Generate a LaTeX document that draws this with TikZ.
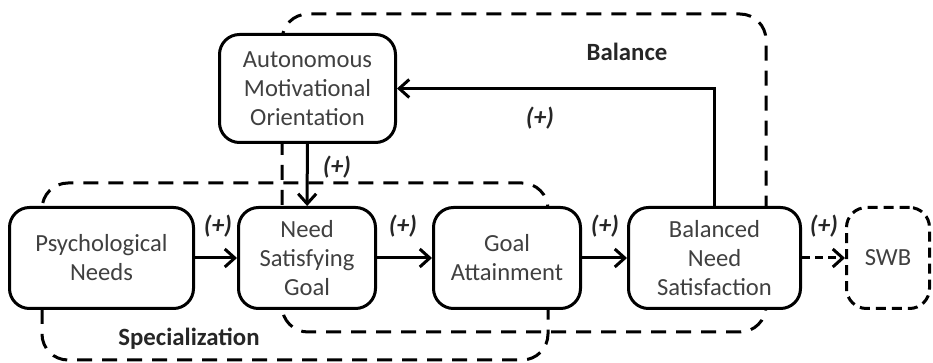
\documentclass[tikz,border=0pt]{standalone}
\usepackage{fontspec}
\setmainfont{Carlito}
\usetikzlibrary{arrows.meta}

\tikzset{
  box/.style={draw, line width=1.5pt, rounded corners=10pt, fill=white,
    align=center, text=black!75, inner sep=0pt, minimum height=50.5pt},
  region/.style={line width=1.5pt, dash pattern=on 7.5pt off 5pt, rounded corners=13pt},
  arr/.style={line width=1.5pt, -{Straight Barb[length=5pt,width=9pt]}},
  plus/.style={font={\fontsize{12.5}{15}\selectfont\bfseries\itshape}, text=black!85},
  tag/.style={font={\fontsize{12.4}{15}\selectfont\bfseries}, text=black!85},
}

\begin{document}
\begin{tikzpicture}[x=0.5pt, y=-0.5pt, font={\fontsize{12.3}{14.5}\selectfont}]
    \useasboundingbox (0,0) rectangle (933,363);

    % Regioni tratteggiate
    \draw[region] (42,183) rectangle (548,360);
    \draw[region] (282,14) rectangle (766,332);
    \node[tag] (spec) at (189,339) {Specialization};
    \node[tag] (bal)  at (627,52)  {Balance};

    % Blocchi
    \node[box, minimum width=88pt, minimum height=54pt] (amo) at (307.5,88.5)
        {Autonomous\\Motivational\\Orientation};
    \node[box, minimum width=92pt]   (pn)  at (101.5,258) {Psychological\\Needs};
    \node[box, minimum width=68.5pt] (nsg) at (307,258)   {Need\\Satisfying\\Goal};
    \node[box, minimum width=73.5pt] (ga)  at (507,258)   {Goal\\Attainment};
    \node[box, minimum width=86pt]   (bns) at (714.5,258) {Balanced\\Need\\Satisfaction};
    \node[box, dash pattern=on 5pt off 3pt, minimum width=41.5pt] (swb) at (888,258) {SWB};

    % Frecce
    \draw[arr] (pn) -- (nsg);
    \draw[arr] (nsg) -- (ga);
    \draw[arr] (ga) -- (bns);
    \draw[arr, dash pattern=on 4pt off 2.5pt] (bns) -- (swb);
    \draw[arr] (amo) -- (nsg);
    \draw[arr] (bns.north) |- (amo.east);

    % Etichette
    \node[plus] (p1) at (218,226) {(+)};
    \node[plus] (p2) at (403,226) {(+)};
    \node[plus] (p3) at (605,226) {(+)};
    \node[plus] (p4) at (824,226) {(+)};
    \node[plus] (p5) at (337,167) {(+)};
    \node[plus] (p6) at (540,118) {(+)};
\end{tikzpicture}
\end{document}
